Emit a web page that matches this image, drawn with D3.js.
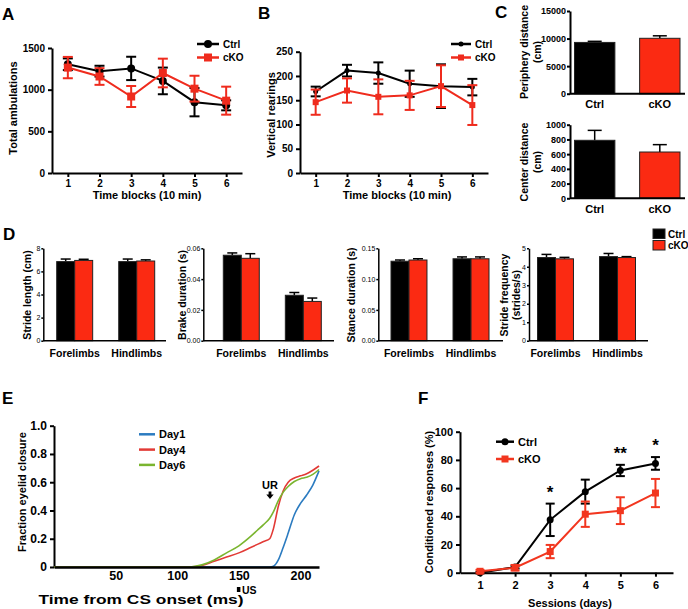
<!DOCTYPE html>
<html>
<head>
<meta charset="utf-8">
<script src="https://cdn.jsdelivr.net/npm/d3@7"></script>
<style>
  body { margin: 0; background: #fff; }
  svg { font-family: 'Liberation Sans', Arial, sans-serif; font-weight: bold; }
</style>
</head>
<body>
<svg id="fig" width="688" height="609"></svg>
<script>
// ---- data ----
const RED = '#ef2b1d';
const BAR_RED = '#fb2a12';

// A: total ambulations per 10 min block
const blocks = [1, 2, 3, 4, 5, 6];
const ambCtrl = [1305, 1222, 1255, 1105, 850, 812];
const ambCtrlErr = [70, 65, 140, 160, 170, 60];
const ambCko = [1265, 1158, 918, 1200, 1012, 868];
const ambCkoErr = [128, 100, 126, 172, 155, 168];

// B: vertical rearings
const rearCtrl = [168, 211, 206, 184, 179, 177];
const rearCtrlErr = [10, 12, 22, 27, 45, 17];
const rearCko = [146, 170, 157, 160, 179, 140];
const rearCkoErr = [26, 25, 36, 30, 43, 41];

// C: distances
const groups = ['Ctrl', 'cKO'];
const periphery = [9300, 10050];
const peripheryErr = [200, 450];
const centerDist = [788, 629];
const centerDistErr = [135, 100];

// D: gait
const limbs = ['Forelimbs', 'Hindlimbs'];
const strideLenCtrl = [6.85, 6.85], strideLenCtrlErr = [0.22, 0.22];
const strideLenCko = [6.95, 6.9], strideLenCkoErr = [0.1, 0.1];
const brakeCtrl = [0.0555, 0.0295], brakeCtrlErr = [0.0015, 0.0018];
const brakeCko = [0.0535, 0.0255], brakeCkoErr = [0.003, 0.0022];
const stanceCtrl = [0.129, 0.133], stanceCtrlErr = [0.002, 0.003];
const stanceCko = [0.131, 0.133], stanceCkoErr = [0.002, 0.003];
const freqCtrl = [4.5, 4.55], freqCtrlErr = [0.17, 0.17];
const freqCko = [4.43, 4.5], freqCkoErr = [0.08, 0.05];

// E: eyelid closure traces
const eyeTime = [0, 100, 110, 120, 130, 140, 150, 160, 165, 170, 175, 178, 182, 186, 190, 195, 200, 205, 210, 215];
const day1 = [0, 0, 0, 0, 0, 0, 0, 0, 0, 0, 0, 0.005, 0.05, 0.14, 0.24, 0.37, 0.45, 0.51, 0.58, 0.68];
const day4 = [0, 0, 0, 0.01, 0.04, 0.07, 0.1, 0.14, 0.16, 0.18, 0.2, 0.27, 0.43, 0.54, 0.6, 0.63, 0.645, 0.66, 0.685, 0.715];
const day6 = [0, 0, 0, 0.015, 0.05, 0.1, 0.15, 0.22, 0.26, 0.3, 0.345, 0.39, 0.47, 0.53, 0.57, 0.605, 0.625, 0.635, 0.655, 0.69];

// F: conditioned responses
const sessions = [1, 2, 3, 4, 5, 6];
const crCtrl = [0, 4, 37.5, 57.5, 72.5, 77.5];
const crCtrlErr = [0.5, 1, 11.5, 8.5, 4, 4.5];
const crCko = [1, 3.5, 15, 41.5, 44, 56.5];
const crCkoErr = [1, 2, 4.7, 9, 9.5, 10];
const crStars = [{ s: 3, t: '*' }, { s: 5, t: '**' }, { s: 6, t: '*' }];

const svg = d3.select('#fig');

function label(x, y, s, size, rotate) {
  const t = svg.append('text')
    .attr('text-anchor', 'middle')
    .attr('dominant-baseline', 'central')
    .attr('font-size', size)
    .text(s);
  if (rotate) t.attr('transform', `translate(${x},${y}) rotate(-90)`);
  else t.attr('x', x).attr('y', y);
  return t;
}

function letter(x, y, s) {
  svg.append('text').attr('x', x).attr('y', y).attr('font-size', 17).text(s);
}

function styleAxis(g, size, width) {
  g.selectAll('path,line').attr('stroke', '#000').attr('stroke-width', width);
  g.selectAll('text').attr('font-size', size).attr('fill', '#000')
    .attr('font-family', "'Liberation Sans', Arial, sans-serif").attr('font-weight', 'bold');
}

function marker(g, shape, cx, cy, r, color) {
  if (shape === 'circle') {
    g.append('circle').attr('cx', cx).attr('cy', cy).attr('r', r).attr('fill', color);
  } else {
    g.append('rect').attr('x', cx - r).attr('y', cy - r).attr('width', 2 * r).attr('height', 2 * r).attr('fill', color);
  }
}

/**
 * Line plot with error bars (panels A, B, F).
 */
function linePanel(cfg) {
  const x = d3.scaleLinear().domain(cfg.xDomain).range(cfg.xRange);
  const y = d3.scaleLinear().domain(cfg.yDomain).range(cfg.yRange);
  const g = svg.append('g');

  const ya = g.append('g').attr('transform', `translate(${cfg.xRange[0]},0)`)
    .call(d3.axisLeft(y).tickValues(cfg.yTicks).tickFormat(d3.format('d'))
      .tickSize(4).tickPadding(3).tickSizeOuter(0));
  styleAxis(ya, cfg.tickSize, 2);
  const xa = g.append('g').attr('transform', `translate(0,${cfg.yRange[0]})`)
    .call(d3.axisBottom(x).tickValues(cfg.xTicks).tickFormat(d3.format('d'))
      .tickSize(4).tickPadding(cfg.xPad || 3).tickSizeOuter(0));
  styleAxis(xa, cfg.tickSize, 2);

  cfg.series.forEach(s => {
    const pts = cfg.xTicks.map((d, i) => ({ x: d, y: s.vals[i], e: s.errs[i] }));
    const eb = g.append('g').attr('stroke', s.color).attr('stroke-width', 2);
    pts.forEach(p => {
      eb.append('line').attr('x1', x(p.x)).attr('x2', x(p.x)).attr('y1', y(p.y - p.e)).attr('y2', y(p.y + p.e));
      [p.y - p.e, p.y + p.e].forEach(v => {
        eb.append('line').attr('x1', x(p.x) - cfg.cap).attr('x2', x(p.x) + cfg.cap).attr('y1', y(v)).attr('y2', y(v));
      });
    });
    g.append('path').datum(pts)
      .attr('fill', 'none').attr('stroke', s.color).attr('stroke-width', 2)
      .attr('d', d3.line().x(d => x(d.x)).y(d => y(d.y)));
    pts.forEach(p => marker(g, s.shape, x(p.x), y(p.y), s.r, s.color));
  });

  // legend
  if (cfg.legend) {
    cfg.series.forEach((s, i) => {
      const ly = cfg.legend.y + i * cfg.legend.dy;
      g.append('line').attr('x1', cfg.legend.x0).attr('x2', cfg.legend.x1).attr('y1', ly).attr('y2', ly)
        .attr('stroke', s.color).attr('stroke-width', 2.5);
      marker(g, s.shape, (cfg.legend.x0 + cfg.legend.x1) / 2, ly, s.r, s.color);
      g.append('text').attr('x', cfg.legend.x1 + 4).attr('y', ly).attr('dominant-baseline', 'central')
        .attr('font-size', cfg.legend.size).text(s.name);
    });
  }
  return { x, y, g };
}

/**
 * Grouped bar plot with one-sided error bars (panels C, D).
 */
function barPanel(cfg) {
  const y = d3.scaleLinear().domain(cfg.yDomain).range(cfg.yRange);
  const outer = d3.scaleBand().domain(cfg.cats).range(cfg.bandRange).paddingInner(cfg.padIn);
  const inner = d3.scaleBand().domain(cfg.series.map(s => s.name)).range([0, outer.bandwidth()]);
  const g = svg.append('g');

  cfg.series.forEach(s => {
    cfg.cats.forEach((c, ci) => {
      const bx = outer(c) + inner(s.name);
      const bw = inner.bandwidth();
      const color = s.colors ? s.colors[ci] : s.color;
      const top = y(s.vals[ci]);
      const et = y(s.vals[ci] + s.errs[ci]);
      g.append('line').attr('x1', bx + bw / 2).attr('x2', bx + bw / 2).attr('y1', top).attr('y2', et)
        .attr('stroke', '#000').attr('stroke-width', 1.5);
      g.append('line').attr('x1', bx + bw / 2 - cfg.cap).attr('x2', bx + bw / 2 + cfg.cap).attr('y1', et).attr('y2', et)
        .attr('stroke', '#000').attr('stroke-width', 1.5);
      g.append('rect').attr('x', bx).attr('y', top).attr('width', bw).attr('height', y(0) - top)
        .attr('fill', color).attr('stroke', '#222').attr('stroke-width', 1);
    });
  });

  const ya = g.append('g').attr('transform', `translate(${cfg.axisX},0)`)
    .call(d3.axisLeft(y).tickValues(cfg.yTicks).tickFormat(cfg.fmt).tickSize(cfg.tickLen).tickPadding(1).tickSizeOuter(0));
  styleAxis(ya, cfg.tickSize, cfg.axisW);
  if (cfg.tickWeight) ya.selectAll('text').attr('font-weight', cfg.tickWeight);
  g.append('line').attr('x1', cfg.axisX).attr('x2', cfg.axisEnd).attr('y1', y(0)).attr('y2', y(0))
    .attr('stroke', '#000').attr('stroke-width', cfg.axisW);

  cfg.cats.forEach(c => {
    g.append('text').attr('x', outer(c) + outer.bandwidth() / 2).attr('y', cfg.catY)
      .attr('text-anchor', 'middle').attr('dominant-baseline', 'central')
      .attr('font-size', cfg.catSize).text(c);
  });
  return { y, outer, g };
}

// ---- A ----
letter(2, 20, 'A');
linePanel({
  xDomain: [0.5, 6.5], xRange: [52, 242], yDomain: [0, 1500], yRange: [173, 48],
  xTicks: blocks, yTicks: [0, 500, 1000, 1500], tickSize: 10, cap: 5,
  series: [
    { name: 'Ctrl', vals: ambCtrl, errs: ambCtrlErr, color: '#000', shape: 'circle', r: 4 },
    { name: 'cKO', vals: ambCko, errs: ambCkoErr, color: RED, shape: 'square', r: 4 }
  ],
  legend: { x0: 197, x1: 219, y: 44, dy: 13.5, size: 10 }
});
label(13, 108, 'Total ambulations', 11, true);
label(147, 195, 'Time blocks (10 min)', 11);

// ---- B ----
letter(258, 19, 'B');
linePanel({
  xDomain: [0.5, 6.5], xRange: [300, 488], yDomain: [0, 250], yRange: [173, 51.7],
  xTicks: blocks, yTicks: [0, 50, 100, 150, 200, 250], tickSize: 10, cap: 5,
  series: [
    { name: 'Ctrl', vals: rearCtrl, errs: rearCtrlErr, color: '#000', shape: 'circle', r: 2.5 },
    { name: 'cKO', vals: rearCko, errs: rearCkoErr, color: RED, shape: 'square', r: 3 }
  ],
  legend: { x0: 451, x1: 471, y: 44, dy: 13.5, size: 10 }
});
label(271, 115, 'Vertical rearings', 11, true);
label(397, 195, 'Time blocks (10 min)', 11);

// ---- C ----
letter(495, 18, 'C');
barPanel({
  yDomain: [0, 15000], yRange: [93.7, 11], yTicks: [0, 5000, 10000, 15000], fmt: d3.format('d'),
  cats: groups, bandRange: [574.5, 680], padIn: 0.38, axisX: 570, axisEnd: 685, axisW: 2,
  tickLen: 3, tickSize: 9, cap: 7, catY: 104, catSize: 11,
  series: [{ name: 'all', vals: periphery, errs: peripheryErr, colors: ['#000', BAR_RED] }]
});
label(524, 52, 'Periphery distance', 10.5, true);
label(537, 52, '(cm)', 10.5, true);
barPanel({
  yDomain: [0, 1000], yRange: [198.3, 124.7], yTicks: [0, 200, 400, 600, 800, 1000], fmt: d3.format('d'),
  cats: groups, bandRange: [574.5, 680], padIn: 0.38, axisX: 570, axisEnd: 685, axisW: 2,
  tickLen: 3, tickSize: 9, cap: 7, catY: 209, catSize: 11,
  series: [{ name: 'all', vals: centerDist, errs: centerDistErr, colors: ['#000', BAR_RED] }]
});
label(524, 162, 'Center distance', 10.5, true);
label(537, 162, '(cm)', 10.5, true);

// ---- D ----
letter(3, 240, 'D');
const dPanels = [
  { axisX: 43.3, axisEnd: 166, start: 56.7, dom: [0, 8], ticks: [0, 2, 4, 6, 8], fmt: d3.format('d'),
    ctrl: strideLenCtrl, ctrlErr: strideLenCtrlErr, cko: strideLenCko, ckoErr: strideLenCkoErr,
    titles: ['Stride length (cm)'], tx: [27] },
  { axisX: 203.3, axisEnd: 334, start: 223.3, dom: [0, 0.06], ticks: [0, 0.02, 0.04, 0.06], fmt: d3.format('.2f'),
    ctrl: brakeCtrl, ctrlErr: brakeCtrlErr, cko: brakeCko, ckoErr: brakeCkoErr,
    titles: ['Brake duration (s)'], tx: [182] },
  { axisX: 378.3, axisEnd: 503, start: 391, dom: [0, 0.15], ticks: [0, 0.05, 0.1, 0.15], fmt: d3.format('.2f'),
    ctrl: stanceCtrl, ctrlErr: stanceCtrlErr, cko: stanceCko, ckoErr: stanceCkoErr,
    titles: ['Stance duration (s)'], tx: [351] },
  { axisX: 529, axisEnd: 648, start: 537.5, dom: [0, 5], ticks: [0, 1, 2, 3, 4, 5], fmt: d3.format('d'),
    ctrl: freqCtrl, ctrlErr: freqCtrlErr, cko: freqCko, ckoErr: freqCkoErr,
    titles: ['Stride frequency', '(strides/s)'], tx: [504, 516] }
];
dPanels.forEach(p => {
  barPanel({
    yDomain: p.dom, yRange: [340.7, 248.3], yTicks: p.ticks, fmt: p.fmt,
    cats: limbs, bandRange: [p.start, p.start + 98], padIn: 0.42, axisX: p.axisX, axisEnd: p.axisEnd, axisW: 1.5,
    tickLen: 2, tickSize: 7, tickWeight: 'normal', cap: 5, catY: 353, catSize: 10.5,
    series: [
      { name: 'Ctrl', vals: p.ctrl, errs: p.ctrlErr, color: '#000' },
      { name: 'cKO', vals: p.cko, errs: p.ckoErr, color: BAR_RED }
    ]
  });
  p.titles.forEach((t, i) => label(p.tx[i], 295, t, 10.5, true));
});
// D legend
[['Ctrl', '#000'], ['cKO', BAR_RED]].forEach((d, i) => {
  svg.append('rect').attr('x', 653).attr('y', 229 + i * 11.5).attr('width', 12).attr('height', 9.5)
    .attr('fill', d[1]).attr('stroke', '#222').attr('stroke-width', 1);
  svg.append('text').attr('x', 668).attr('y', 234 + i * 11.5).attr('dominant-baseline', 'central')
    .attr('font-size', 10).text(d[0]);
});

// ---- E ----
letter(2, 404, 'E');
{
  const x = d3.scaleLinear().domain([0, 215]).range([54, 319]);
  const y = d3.scaleLinear().domain([0, 1]).range([567, 425.7]);
  const g = svg.append('g');
  const ya = g.append('g').attr('transform', 'translate(54,0)')
    .call(d3.axisLeft(y).tickValues([0, 0.2, 0.4, 0.6, 0.8, 1]).tickFormat(d => d === 0 ? '0' : d.toFixed(1))
      .tickSize(4).tickPadding(3).tickSizeOuter(0));
  styleAxis(ya, 12, 2);
  const traces = [
    { name: 'Day1', vals: day1, color: '#2b7bc0' },
    { name: 'Day4', vals: day4, color: '#e23a36' },
    { name: 'Day6', vals: day6, color: '#7ab52f' }
  ];
  traces.forEach(tr => {
    g.append('path').datum(eyeTime.map((t, i) => [t, tr.vals[i]]))
      .attr('fill', 'none').attr('stroke', tr.color).attr('stroke-width', 1.6)
      .attr('d', d3.line().x(d => x(d[0])).y(d => y(d[1])).curve(d3.curveMonotoneX));
  });
  const xa = g.append('g').attr('transform', 'translate(0,567)')
    .call(d3.axisBottom(x).tickValues([50, 100, 150, 200]).tickSize(1).tickPadding(3).tickSizeOuter(0));
  styleAxis(xa, 12, 2.5);
  xa.selectAll('text').attr('font-size', 12.5);
  traces.forEach((tr, i) => {
    const ly = 434.3 + i * 15.3;
    g.append('line').attr('x1', 139).attr('x2', 155).attr('y1', ly).attr('y2', ly)
      .attr('stroke', tr.color).attr('stroke-width', 2.5);
    g.append('text').attr('x', 159).attr('y', ly).attr('dominant-baseline', 'central')
      .attr('font-size', 11).text(tr.name);
  });
  // US / UR markers
  g.append('rect').attr('x', x(150) - 2).attr('y', 587).attr('width', 3.5).attr('height', 5).attr('fill', '#000');
  g.append('text').attr('x', x(150) + 3).attr('y', 589.5).attr('dominant-baseline', 'central')
    .attr('font-size', 10.5).text('US');
  g.append('text').attr('x', 270).attr('y', 484.5).attr('text-anchor', 'middle').attr('dominant-baseline', 'central')
    .attr('font-size', 11).text('UR');
  g.append('path').attr('d', 'M268.6,491.5 h2.8 v3 h2.3 l-3.7,4.5 l-3.7,-4.5 h2.3 z').attr('fill', '#000');
}
label(22, 492, 'Fraction eyelid closure', 11, true);
label(141, 599.5, 'Time from CS onset (ms)', 13)
  .attr('textLength', 205).attr('lengthAdjust', 'spacingAndGlyphs');

// ---- F ----
letter(418, 404, 'F');
const f = linePanel({
  xDomain: [0.43, 6.5], xRange: [460, 673], yDomain: [0, 100], yRange: [572.7, 431.7],
  xTicks: sessions, yTicks: [0, 20, 40, 60, 80, 100], tickSize: 11, cap: 4.5, xPad: 5,
  series: [
    { name: 'Ctrl', vals: crCtrl, errs: crCtrlErr, color: '#000', shape: 'circle', r: 3.5 },
    { name: 'cKO', vals: crCko, errs: crCkoErr, color: '#f2361f', shape: 'square', r: 3.5 }
  ],
  legend: { x0: 496, x1: 514, y: 441.7, dy: 17.3, size: 11 }
});
crStars.forEach(s => {
  f.g.append('text').attr('x', f.x(s.s)).attr('y', f.y(crCtrl[s.s - 1] + crCtrlErr[s.s - 1]) - 6)
    .attr('text-anchor', 'middle').attr('font-size', 17).text(s.t);
});
label(429, 502, 'Conditioned responses (%)', 11, true);
label(570, 603, 'Sessions (days)', 11);
</script>
</body>
</html>
